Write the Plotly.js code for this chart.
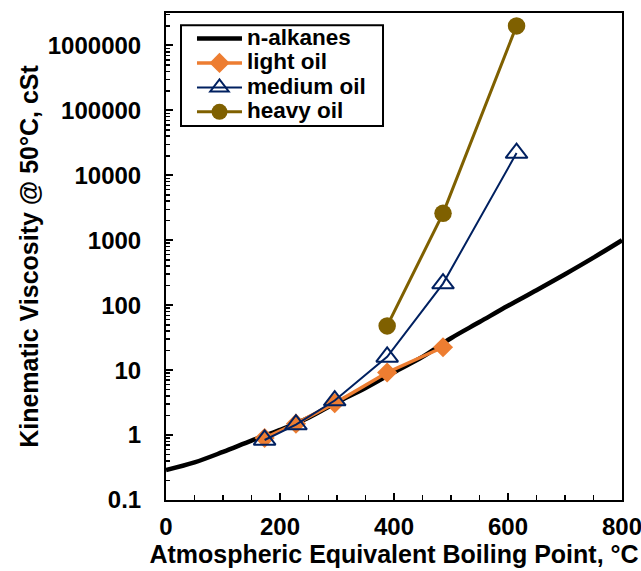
<!DOCTYPE html>
<html>
<head>
<meta charset="utf-8">
<script src="https://cdn.plot.ly/plotly-3.0.1.min.js"></script>
<style>html,body{margin:0;padding:0;background:#fff;}#chart{width:641px;height:571px;}</style>
</head>
<body>
<div id="chart"></div>
<script>
const alkaneX = [0, 50, 100, 150, 200, 250, 300, 350, 400, 450, 500, 550, 600, 650, 700, 750, 800];
const alkaneY = [0.29, 0.38, 0.55, 0.82, 1.2, 1.85, 3.2, 5.3, 9.3, 16, 31, 55, 98, 170, 300, 540, 1000];
const lightX = [173, 228, 296, 388, 486];
const lightY = [0.9, 1.5, 3.1, 9.2, 22.5];
const mediumX = [173, 228, 296, 388, 486, 615];
const mediumY = [0.84, 1.45, 3.4, 16, 215, 22000];
const heavyX = [388, 486, 615];
const heavyY = [48, 2600, 2000000];
const yTickVals = [0.1, 1, 10, 100, 1000, 10000, 100000, 1000000];
const yTickText = ["0.1", "1", "10", "100", "1000", "10000", "100000", "1000000"];
const seriesNames = ["n-alkanes", "light oil", "medium oil", "heavy oil"];

const fontFam = "Liberation Sans, Arial, sans-serif";
const lg = (s) => '<span style="font-size:22.5px">' + s + '</span>';
const traces = [
  {x: alkaneX, y: alkaneY, name: lg(seriesNames[0]), mode: "lines", line: {color: "#000000", width: 4.5, shape: "spline"}},
  {x: lightX, y: lightY, name: lg(seriesNames[1]), mode: "lines+markers", line: {color: "#ED7D31", width: 3.5},
   marker: {symbol: "diamond", size: 15.5, color: "#ED7D31"}},
  {x: mediumX, y: mediumY, name: lg(seriesNames[2]), mode: "lines+markers", line: {color: "#002060", width: 2},
   marker: {symbol: "triangle-up-open", size: 19, color: "#002060", line: {width: 2, color: "#002060"}}},
  {x: heavyX, y: heavyY, name: lg(seriesNames[3]), mode: "lines+markers", line: {color: "#7F6000", width: 3},
   marker: {symbol: "circle", size: 17.5, color: "#7F6000"}}
];
const layout = {
  width: 641, height: 571,
  margin: {l: 166, r: 19, t: 13, b: 71},
  paper_bgcolor: "#fff", plot_bgcolor: "#fff",
  font: {family: fontFam, size: 22, color: "#000"},
  showlegend: true,
  legend: {x: 0.057, y: 0.983, xanchor: "left", yanchor: "top", bgcolor: "rgba(0,0,0,0)",
           borderwidth: 0, font: {family: fontFam, size: 16.5, color: "#000", weight: "bold"},
           tracegroupgap: 0, itemwidth: 45},
  shapes: [{type: "rect", xref: "paper", yref: "paper", x0: 0.0329, x1: 0.4759, y0: 0.768, y1: 0.975,
            line: {color: "#000", width: 2}, fillcolor: "rgba(0,0,0,0)", layer: "above"}],
  xaxis: {
    range: [0, 800], dtick: 200, tick0: 0, showgrid: false, zeroline: false,
    showline: true, linecolor: "#000", linewidth: 2, mirror: true,
    ticks: "inside", ticklen: 7, tickwidth: 2, tickcolor: "#000",
    minor: {dtick: 50, ticks: "inside", ticklen: 5, tickwidth: 1.5, tickcolor: "#000", showgrid: false},
    tickfont: {family: fontFam, size: 24, weight: "bold"},
    ticklabelstandoff: 4, ticklabeloverflow: "allow",
    title: {text: "Atmospheric Equivalent Boiling Point, °C", font: {family: fontFam, size: 25, weight: "bold"}, standoff: 4}
  },
  yaxis: {
    type: "log", range: [-1, 6.5], showgrid: false, zeroline: false,
    showline: true, linecolor: "#000", linewidth: 2, mirror: true,
    tickvals: yTickVals, ticktext: yTickText,
    ticks: "inside", ticklen: 7, tickwidth: 2, tickcolor: "#000",
    minor: {dtick: "D1", ticks: "inside", ticklen: 4, tickwidth: 1.5, tickcolor: "#000", showgrid: false},
    tickfont: {family: fontFam, size: 24, weight: "bold"},
    ticklabelstandoff: 18, ticklabeloverflow: "allow",
    title: {text: "Kinematic Viscosity @ 50°C, cSt", font: {family: fontFam, size: 25, weight: "bold"}, standoff: 2}
  }
};
Plotly.newPlot("chart", traces, layout, {displayModeBar: false, staticPlot: true});
</script>
</body>
</html>
